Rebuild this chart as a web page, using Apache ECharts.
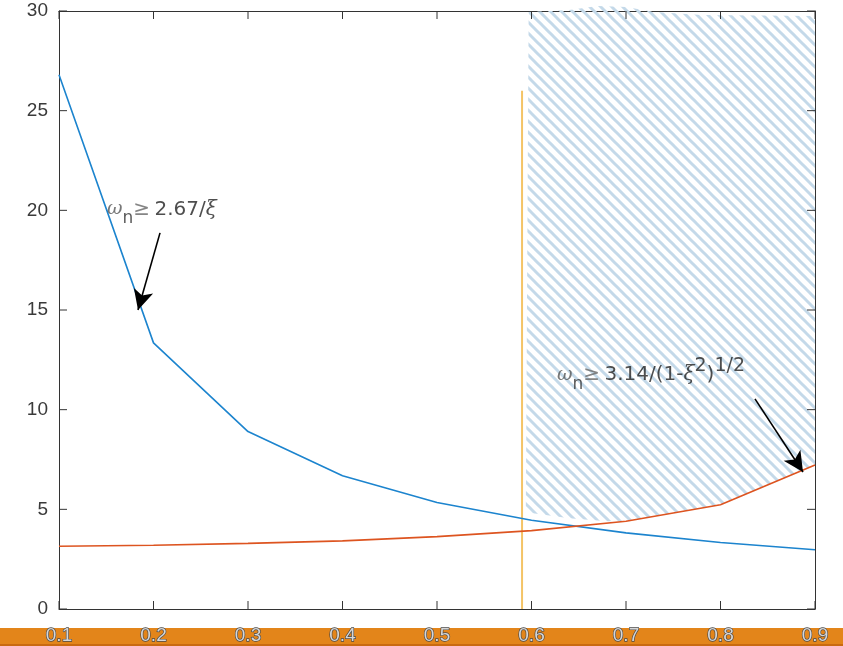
<!DOCTYPE html>
<html><head><meta charset="utf-8">
<script src="https://cdn.jsdelivr.net/npm/echarts@6/dist/echarts.min.js"></script>
<style>html,body{margin:0;padding:0;background:#fff}#c{width:843px;height:646px}</style>
</head><body><div id="c"></div>
<script>
// ---- data ----
const xi = [0.1, 0.2, 0.3, 0.4, 0.5, 0.6, 0.7, 0.8, 0.9];
const bound1 = [26.8, 13.35, 8.9, 6.68, 5.34, 4.45, 3.82, 3.34, 2.97];   // 2.67/xi
const bound2 = [3.15, 3.2, 3.29, 3.42, 3.63, 3.93, 4.40, 5.23, 7.22];    // 3.14/sqrt(1-xi^2)
const cutoffX = [0.59, 0.59];
const cutoffY = [0, 26];
const hatchTopX = [0.597, 0.64, 0.67, 0.70, 0.73, 0.78, 0.9];
const hatchTopY = [29.95, 30.05, 30.25, 30.2, 29.95, 29.8, 29.75];
const hatchBotX = [0.9, 0.8, 0.7, 0.68, 0.64, 0.594];
const hatchBotY = [7.22, 5.23, 4.42, 4.4, 4.55, 4.85];
const xTickLabels = ['0.1', '0.2', '0.3', '0.4', '0.5', '0.6', '0.7', '0.8', '0.9'];
const yTickLabels = ['0', '5', '10', '15', '20', '25', '30'];
const note1Pos = [0.1508, 20.05];
const note2Pos = [0.627, 11.74];
const arrow1 = [[0.2069, 18.87], [0.1836, 15.0]];
const arrow2 = [[0.8365, 10.54], [0.8873, 6.87]];

const xTickVals = xTickLabels.map(Number);
const yTickVals = yTickLabels.map(Number);
const X0 = xTickVals[0], X1 = xTickVals[xTickVals.length - 1];
const Y0 = yTickVals[0], Y1 = yTickVals[yTickVals.length - 1];

// hatch pattern
const pc = document.createElement('canvas');
const S = 11;
pc.width = S; pc.height = S;
const g = pc.getContext('2d');
g.strokeStyle = '#C4D9E9';
g.lineWidth = 3.0;
for (let k = -1; k <= 1; k++) {
  g.beginPath();
  g.moveTo(k * S - 3, -3);
  g.lineTo(k * S + S + 3, S + 3);
  g.stroke();
}

const FONT = '"Liberation Sans", Arial, sans-serif';
const TFONT = '"DejaVu Sans", sans-serif';
const SERIF = '"DejaVu Serif", "Liberation Serif", serif';
const richBase = {
  w: {fontFamily: SERIF, fontStyle: 'italic', fontSize: 19, color: '#555', lineHeight: 36, verticalAlign: 'middle'},
  sub: {fontFamily: TFONT, fontSize: 17, color: '#333', lineHeight: 9, verticalAlign: 'bottom'},
  ge: {fontFamily: TFONT, fontSize: 20, color: '#666', lineHeight: 36, verticalAlign: 'middle'},
  sp: {fontFamily: TFONT, fontSize: 14, lineHeight: 36, verticalAlign: 'middle'},
  t: {fontFamily: TFONT, fontSize: 20, color: '#222', lineHeight: 36, verticalAlign: 'middle'},
  xi: {fontFamily: SERIF, fontStyle: 'italic', fontSize: 20, color: '#222', lineHeight: 36, verticalAlign: 'middle'},
  sup: {fontFamily: TFONT, fontSize: 19, color: '#222', lineHeight: 16, verticalAlign: 'top'}
};

const chart = echarts.init(document.getElementById('c'), null, {renderer: 'canvas'});
const axisCol = '#333';
const TL = 8;
chart.setOption({
  animation: false,
  backgroundColor: '#fff',
  grid: {left: 59, right: 28, top: 11, bottom: 37, containLabel: false, outerBoundsMode: 'none'},
  graphic: [
    {type: 'rect', left: 0, top: 628, z: -10, shape: {width: 843, height: 18}, style: {fill: '#E3851A'}},
    {type: 'rect', left: 0, top: 644, z: -9, shape: {width: 843, height: 2}, style: {fill: '#C96A10'}}
  ],
  xAxis: [{
    type: 'value', min: 0.1, max: 0.9, interval: 0.1, position: 'bottom', z: 10,
    splitLine: {show: false},
    axisLine: {show: true, lineStyle: {color: axisCol, width: 1}},
    axisTick: {show: false},
    axisLabel: {margin: 17, fontFamily: FONT, fontSize: 19, color: '#d6d6d6', textBorderColor: '#4a4a4a', textBorderWidth: 1.3,
      formatter: (v, i) => xTickLabels[i]}
  }, {
    type: 'value', min: 0.1, max: 0.9, interval: 0.1, position: 'top',
    splitLine: {show: false},
    axisLine: {show: true, onZero: false, lineStyle: {color: axisCol, width: 1}},
    axisTick: {show: false},
    axisLabel: {show: false}
  }],
  yAxis: [{
    type: 'value', min: 0, max: 30, interval: 5, position: 'left',
    splitLine: {show: false},
    axisLine: {show: true, lineStyle: {color: axisCol, width: 1}},
    axisTick: {show: false},
    axisLabel: {margin: 11, fontFamily: FONT, fontSize: 19, color: '#3a3a3a',
      formatter: (v, i) => yTickLabels[i]}
  }, {
    type: 'value', min: 0, max: 30, interval: 5, position: 'right',
    splitLine: {show: false},
    axisLine: {show: true, onZero: false, lineStyle: {color: axisCol, width: 1}},
    axisTick: {show: false},
    axisLabel: {show: false}
  }],
  series: [
    {
      type: 'custom', name: 'region', clip: false, z: 1, silent: true,
      data: [[0]],
      renderItem: (params, api) => {
        const pts = [];
        for (let i = 0; i < hatchTopX.length; i++) pts.push(api.coord([hatchTopX[i], hatchTopY[i]]));
        for (let i = 0; i < hatchBotX.length; i++) pts.push(api.coord([hatchBotX[i], hatchBotY[i]]));
        return {type: 'polygon', shape: {points: pts}, style: {fill: {image: pc, repeat: 'repeat'}, stroke: null}};
      }
    },
    {
      type: 'custom', name: 'ticks', clip: false, z: 6, silent: true,
      data: [[0]],
      renderItem: (params, api) => {
        const ch = [];
        const st = {stroke: axisCol, lineWidth: 1};
        xTickVals.forEach((x) => {
          const b = api.coord([x, Y0]), t = api.coord([x, Y1]);
          ch.push({type: 'line', shape: {x1: b[0], y1: b[1], x2: b[0], y2: b[1] - TL}, style: st});
          ch.push({type: 'line', shape: {x1: t[0], y1: t[1], x2: t[0], y2: t[1] + TL}, style: st});
        });
        yTickVals.forEach((y) => {
          const l = api.coord([X0, y]), r = api.coord([X1, y]);
          ch.push({type: 'line', shape: {x1: l[0], y1: l[1], x2: l[0] + TL, y2: l[1]}, style: st});
          ch.push({type: 'line', shape: {x1: r[0], y1: r[1], x2: r[0] - TL, y2: r[1]}, style: st});
        });
        return {type: 'group', children: ch};
      }
    },
    {
      type: 'line', name: 'bound1', z: 3, symbol: 'none', smooth: false,
      data: xi.map((x, i) => [x, bound1[i]]),
      lineStyle: {color: '#1C84CE', width: 1.6}
    },
    {
      type: 'line', name: 'bound2', z: 3, symbol: 'none', smooth: false,
      data: xi.map((x, i) => [x, bound2[i]]),
      lineStyle: {color: '#DD5420', width: 1.6}
    },
    {
      type: 'line', name: 'cutoff', z: 2, symbol: 'none',
      data: cutoffX.map((x, i) => [x, cutoffY[i]]),
      lineStyle: {color: '#F4C466', width: 2}
    },
    {
      type: 'scatter', name: 'notes', z: 5, symbolSize: 0, silent: true,
      data: [note1Pos, note2Pos],
      label: {
        show: true, position: 'right', distance: 0,
        formatter: (p) => p.dataIndex === 0
          ? '{w|ω}{sub|n}{ge|≥}{sp| }{t|2.67/}{xi|ξ}'
          : '{w|ω}{sub|n}{ge|≥}{sp| }{t|3.14/(1-}{xi|ξ}{sup|2}{t|)}{sup|1/2}',
        rich: richBase
      },
      markLine: {
        silent: true, symbol: ['none', 'arrow'], symbolSize: [15, 20],
        label: {show: false},
        lineStyle: {color: '#000', width: 1.6, type: 'solid'},
        data: [
          [{coord: arrow1[0]}, {coord: arrow1[1]}],
          [{coord: arrow2[0]}, {coord: arrow2[1]}]
        ]
      }
    }
  ]
});
</script></body></html>
